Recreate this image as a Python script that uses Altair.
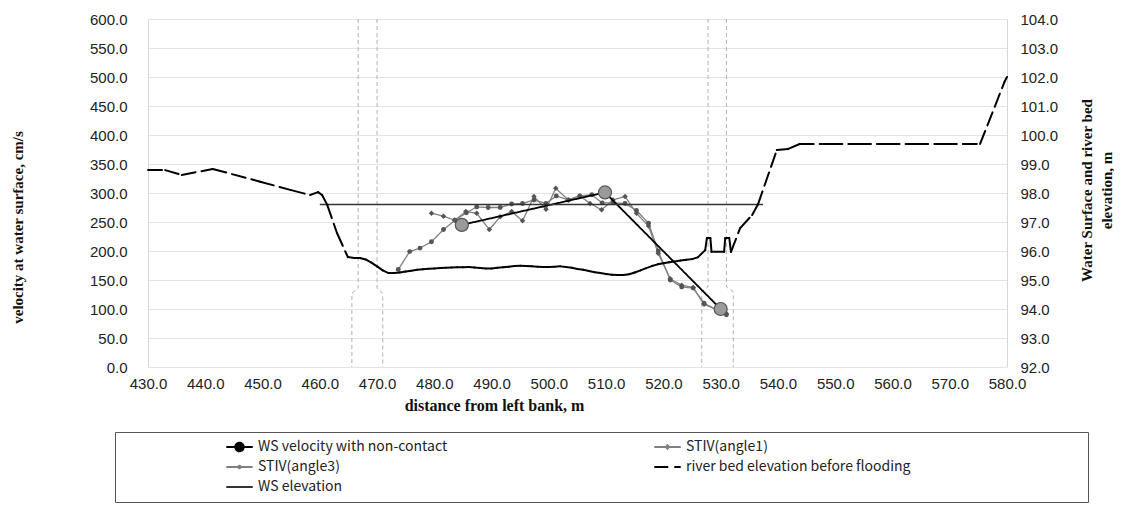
import altair as alt
import pandas as pd

# ---------------- data ----------------
series = [
    "WS velocity with non-contact",
    "STIV(angle1)",
    "STIV(angle3)",
    "river bed elevation before flooding",
    "WS elevation",
]

x_ticks = [430, 440, 450, 460, 470, 480, 490, 500, 510, 520, 530, 540, 550, 560, 570, 580]
v_ticks = [0, 50, 100, 150, 200, 250, 300, 350, 400, 450, 500, 550, 600]
z_ticks = [92, 93, 94, 95, 96, 97, 98, 99, 100, 101, 102, 103, 104]

# river bed elevation before flooding (m)
bed_x = [430.0, 433.0, 435.9, 441.3, 449.6, 455.0, 458.3, 459.7, 460.4, 461.3, 463.0, 464.9,
         466, 467, 468, 469, 470, 471, 472, 473, 474, 475, 476, 477, 478, 479, 480,
         481, 482, 483, 484, 485, 486, 487, 488, 489, 490, 491, 492, 493, 494, 495,
         496, 497, 498, 499, 500, 501, 502, 503, 504, 505, 506, 507, 508, 509, 510,
         511, 512, 513, 514, 515, 516, 517, 518, 519, 520, 521, 522, 523, 524, 525, 526,
         527.3, 527.6, 528.2, 528.4, 530.6, 530.8, 531.5, 531.8, 533.4, 535.5, 536.5,
         539.8, 541.8, 543.8, 548.8, 553.8, 558.8, 563.8, 568.8, 575.3, 579.6, 580.0]
bed_z = [98.79, 98.79, 98.62, 98.83, 98.39, 98.10, 97.93, 98.03, 97.93, 97.59, 96.62, 95.79,
         95.76, 95.76, 95.71, 95.60, 95.47, 95.33, 95.24, 95.24, 95.26, 95.29, 95.32, 95.35, 95.37, 95.39, 95.40,
         95.41, 95.42, 95.43, 95.44, 95.44, 95.45, 95.43, 95.41, 95.40, 95.40, 95.42, 95.44, 95.46, 95.48, 95.49,
         95.48, 95.47, 95.46, 95.45, 95.45, 95.46, 95.47, 95.45, 95.42, 95.38, 95.35, 95.31, 95.27, 95.24, 95.21,
         95.18, 95.17, 95.17, 95.20, 95.26, 95.33, 95.41, 95.48, 95.54, 95.58, 95.61, 95.64, 95.67, 95.70, 95.72, 95.78,
         96.03, 96.45, 96.45, 95.97, 95.97, 96.45, 96.45, 95.97, 96.79, 97.24, 97.60,
         99.48, 99.52, 99.69, 99.69, 99.69, 99.69, 99.69, 99.69, 99.69, 101.85, 102.00]

# water surface elevation (m)
ws_x = [460.0, 537.4]
ws_z = [97.6, 97.6]

# WS velocity with non-contact (cm/s)
wsv_x = [484.8, 509.8, 530.0]
wsv_v = [245, 301, 100]

# STIV(angle1) (cm/s)
a1_x = [479.5, 481.6, 483.6, 485.5, 487.4, 489.6, 491.5, 493.5, 495.4, 497.4, 499.5, 501.2, 503.4,
        505.4, 507.2, 509.2, 511.2, 513.3, 515.3, 517.4, 519.1, 521.2, 523.2, 525.2, 527.1, 531.0]
a1_v = [265, 260, 253, 268, 265, 237, 259, 268, 252, 294, 272, 308, 288,
        295, 282, 271, 288, 294, 265, 243, 196, 152, 141, 137, 108, 92]

# STIV(angle3) (cm/s)
a3_x = [473.7, 475.7, 477.5, 479.5, 481.6, 483.6, 485.6, 487.4, 489.4, 491.5, 493.5, 495.4, 497.4,
        499.5, 501.3, 503.4, 505.4, 507.5, 509.3, 511.2, 513.3, 515.3, 517.4, 519.1, 521.2, 523.2,
        525.2, 527.1, 531.0]
a3_v = [168, 199, 205, 216, 237, 253, 266, 276, 275, 275, 281, 282, 288,
        282, 295, 288, 295, 297, 283, 283, 282, 270, 248, 200, 150, 138,
        136, 110, 90]

# bridge pier outlines (drawn on the velocity scale)
pier_id = ["p1", "p1", "p1", "p1", "p2", "p2", "p2", "p2",
           "p3", "p3", "p3", "p3", "p4", "p4", "p4", "p4"]
pier_x = [466.7, 466.7, 465.6, 465.6, 470.0, 470.0, 471.0, 471.0,
          527.8, 527.8, 526.7, 526.7, 531.0, 531.0, 532.2, 532.2]
pier_v = [600, 136, 127, 0, 600, 136, 127, 0,
          600, 138, 130, 0, 600, 138, 130, 0]

# ---------------- tables ----------------
vel_df = pd.concat([
    pd.DataFrame({"x": wsv_x, "v": wsv_v, "series": series[0]}),
    pd.DataFrame({"x": a1_x, "v": a1_v, "series": series[1]}),
    pd.DataFrame({"x": a3_x, "v": a3_v, "series": series[2]}),
], ignore_index=True)
pier_df = pd.DataFrame({"x": pier_x, "v": pier_v, "pier": pier_id})
pier_df["ord"] = range(len(pier_df))
ws_df = pd.DataFrame({"x": ws_x, "z": ws_z, "series": series[4]})

# the bed line is drawn segment by segment so the dash pattern restarts at every point
rows = []
for i in range(len(bed_x) - 1):
    for j in (i, i + 1):
        rows.append({"x": bed_x[j], "z": bed_z[j], "seg": i, "ord": j, "series": series[3]})
bed_df = pd.DataFrame(rows)

# ---------------- encodings ----------------
LAB_FONT = "Liberation Sans"
TIT_FONT = "Liberation Serif"

# legend entries fill column by column: order them so rows read like the reference
leg_order = [series[0], series[2], series[4], series[1], series[3]]
leg_color = {series[0]: "#000000", series[1]: "#808080", series[2]: "#808080",
             series[3]: "#000000", series[4]: "#333333"}
leg_dash = {series[0]: [1, 0], series[1]: [1, 0], series[2]: [1, 0],
            series[3]: [14, 6], series[4]: [1, 0]}

# legend swatches: a line sample with the series' marker (unit-box SVG paths)
LINE = "M-1,0H1"
def ring(r):
    return f"M{-r},0A{r},{r} 0 1,0 {r},0A{r},{r} 0 1,0 {-r},0"
leg_shape = {
    series[0]: LINE + ring(0.32) + ring(0.2) + ring(0.08),
    series[1]: LINE + "M0,-0.13L0.13,0L0,0.13L-0.13,0Z",
    series[2]: LINE + ring(0.09),
    series[3]: LINE,
    series[4]: LINE,
}

# blank (braille-blank) tail widening the legend frame to the right like the reference box
tail = "\u2800" * 17

leg = alt.Legend(
    title=".", titleColor="#ffffff", titleOrient="left", titlePadding=100, titleFontSize=10,
    orient="none", legendX=-33, legendY=413,
    columns=2, columnPadding=205, rowPadding=4,
    symbolType="stroke", symbolSize=700, symbolStrokeWidth=2, clipHeight=16,
    labelFont="Noto Sans CJK JP", labelFontSize=14, labelColor="#222222",
    labelOffset=4, labelLimit=900,
    labelExpr="indexof(datum.label, 'flooding') >= 0 ? datum.label + '" + tail + "' : datum.label",
    strokeColor="#555555", padding=7, fillColor="#ffffff",
)
color_scale = alt.Scale(domain=leg_order, range=[leg_color[s] for s in leg_order])
dash_scale = alt.Scale(domain=leg_order, range=[leg_dash[s] for s in leg_order])
shape_scale = alt.Scale(domain=leg_order, range=[leg_shape[s] for s in leg_order])
color_enc = alt.Color("series:N", scale=color_scale, legend=leg)
dash_enc = alt.StrokeDash("series:N", scale=dash_scale, legend=leg)
shape_enc = alt.Shape("series:N", scale=shape_scale, legend=leg)

x_enc = alt.X("x:Q", scale=alt.Scale(domain=[430, 580], nice=False, zero=False),
              axis=alt.Axis(values=x_ticks, format=".1f", title="distance from left bank, m",
                            titleX=346, titleY=38, titleAlign="center", titleBaseline="middle",
                            titleFont=TIT_FONT, titleFontSize=16, titleFontWeight="bold",
                            titleColor="#111111",
                            labelFont=LAB_FONT, labelFontSize=15, labelColor="#222222",
                            labelPadding=9, ticks=False, domain=False, grid=False,
                            labelFlush=False, labelOverlap=False))

yv_enc = alt.Y("v:Q", scale=alt.Scale(domain=[0, 600], nice=False, zero=False),
               axis=alt.Axis(values=v_ticks, format=".1f", orient="left",
                             title="velocity at water surface, cm/s",
                             titleX=-131, titleY=208, titleAngle=270,
                             titleAlign="center", titleBaseline="middle",
                             titleFont=TIT_FONT, titleFontSize=15, titleFontWeight="bold",
                             titleColor="#111111",
                             labelFont=LAB_FONT, labelFontSize=15, labelColor="#222222",
                             labelPadding=21, ticks=False, domain=True, domainColor="#d6d6d6",
                             grid=True, gridColor="#e4e4e4", labelFlush=False,
                             labelOverlap=False))

yz_enc = alt.Y("z:Q", scale=alt.Scale(domain=[92, 104], nice=False, zero=False),
               axis=alt.Axis(values=z_ticks, format=".1f", orient="right",
                             title=["Water Surface and river bed", "elevation, m"],
                             titleX=79, titleY=171, titleAngle=270,
                             titleAlign="center", titleBaseline="middle", titleLineHeight=20,
                             titleFont=TIT_FONT, titleFontSize=15, titleFontWeight="bold",
                             titleColor="#111111",
                             labelFont=LAB_FONT, labelFontSize=15, labelColor="#222222",
                             labelPadding=13, ticks=False, domain=True, domainColor="#d6d6d6",
                             grid=False, labelFlush=False, labelOverlap=False))

# ---------------- layers ----------------
piers = alt.Chart(pier_df).mark_line(color="#b0b0b0", strokeWidth=1, strokeDash=[4, 3]).encode(
    x=x_enc, y=yv_enc, detail="pier:N", order="ord:Q")

stiv = alt.Chart(vel_df).transform_filter(
    alt.FieldOneOfPredicate(field="series", oneOf=series[1:3])
).mark_line(strokeWidth=1.3).encode(x=x_enc, y=yv_enc, color=color_enc, strokeDash=dash_enc)

stiv1_pts = alt.Chart(vel_df).transform_filter(alt.datum.series == series[1]).mark_point(
    shape="diamond", filled=True, size=30, color="#555555", opacity=1).encode(x=x_enc, y=yv_enc)

stiv3_pts = alt.Chart(vel_df).transform_filter(alt.datum.series == series[2]).mark_circle(
    size=24, color="#555555", opacity=1).encode(x=x_enc, y=yv_enc)

wsv_line = alt.Chart(vel_df).transform_filter(alt.datum.series == series[0]).mark_line(
    strokeWidth=1.8).encode(x=x_enc, y=yv_enc, color=color_enc, strokeDash=dash_enc)

wsv_pts = alt.Chart(vel_df).transform_filter(alt.datum.series == series[0]).mark_point(
    filled=True, size=170, fill="#9a9a9a", stroke="#555555", strokeWidth=1.2, opacity=1
).encode(x=x_enc, y=yv_enc)

# draws nothing in the plot; it only carries the legend swatch shapes
swatch = alt.Chart(vel_df).transform_filter("false").mark_point(
    filled=False, opacity=1, strokeWidth=2).encode(
    x=x_enc, y=yv_enc, color=color_enc, strokeDash=dash_enc, shape=shape_enc)

bed = alt.Chart(bed_df).mark_line(strokeWidth=2, strokeCap="round").encode(
    x=x_enc, y=yz_enc, detail="seg:N", order="ord:Q", color=color_enc, strokeDash=dash_enc)

ws = alt.Chart(ws_df).mark_line(strokeWidth=1.5).encode(
    x=x_enc, y=yz_enc, color=color_enc, strokeDash=dash_enc)

left = alt.layer(piers, stiv, stiv1_pts, stiv3_pts, wsv_line, wsv_pts, swatch)
right = alt.layer(ws, bed)

chart = alt.layer(left, right).resolve_scale(y="independent").properties(
    width=859, height=348,
    autosize=alt.AutoSizeParams(type="none"),
    padding={"left": 140, "top": 11, "right": 107, "bottom": 136},
    background="#ffffff",
).configure_view(stroke=None)

chart.save("out.html", embed_options={"renderer": "svg", "actions": False})
